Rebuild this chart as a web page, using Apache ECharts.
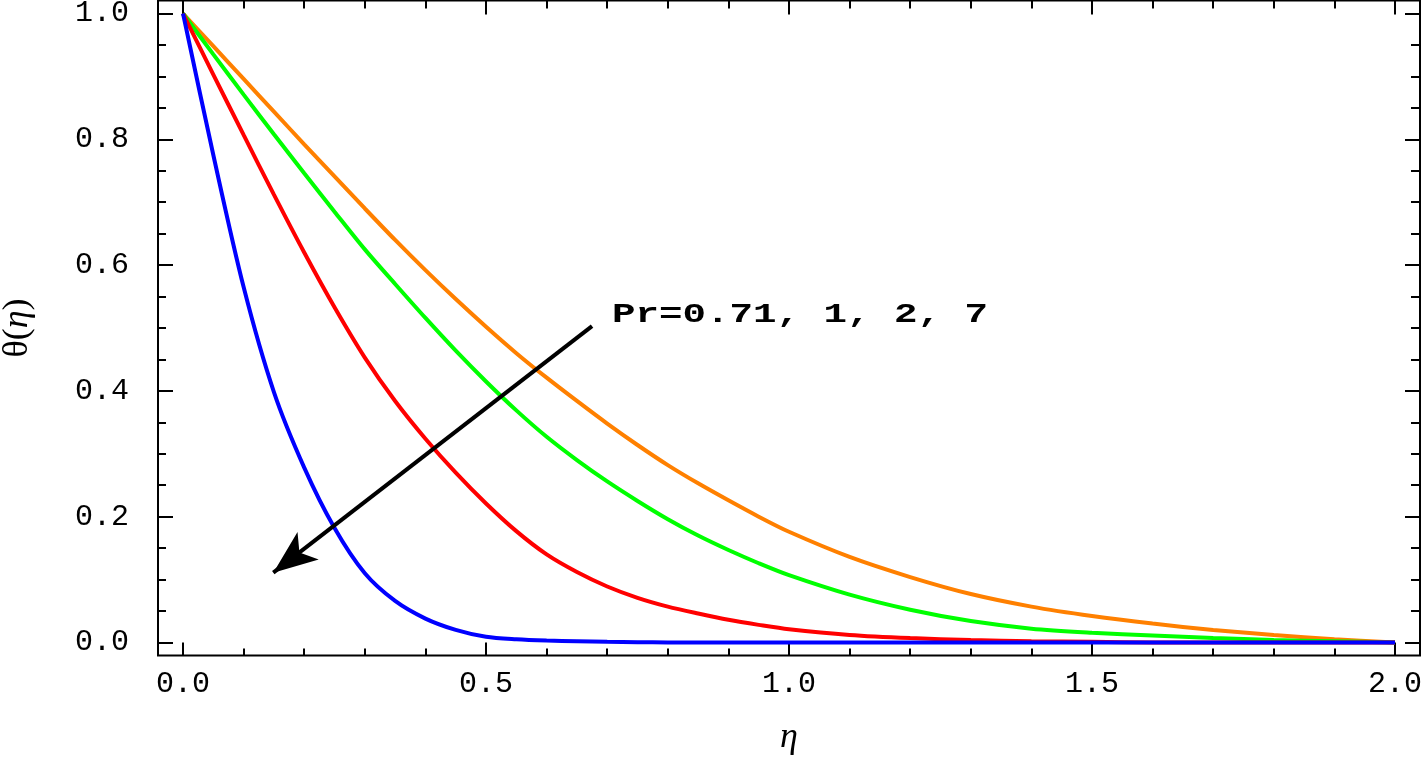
<!DOCTYPE html>
<html>
<head>
<meta charset="utf-8">
<script src="https://cdn.jsdelivr.net/npm/echarts@6/dist/echarts.min.js"></script>
<style>
  html, body { margin: 0; padding: 0; background: #fff; }
  #chart { width: 1421px; height: 759px; }
</style>
</head>
<body>
<div id="chart"></div>
<script>
// eta grid (x) and theta(eta) for each Prandtl number
const eta = [0, 0.05, 0.1, 0.15, 0.2, 0.25, 0.3, 0.35, 0.4, 0.45, 0.5,
  0.55, 0.6, 0.65, 0.7, 0.75, 0.8, 0.85, 0.9, 0.95, 1.0,
  1.1, 1.2, 1.3, 1.4, 1.5, 1.6, 1.7, 1.8, 1.9, 2.0]
const thetaPr071 = [1, 0.948, 0.896, 0.844, 0.792, 0.741, 0.69, 0.64, 0.592, 0.546, 0.502,
  0.46, 0.421, 0.384, 0.348, 0.314, 0.282, 0.253, 0.226, 0.2, 0.176,
  0.136, 0.104, 0.077, 0.057, 0.042, 0.03, 0.02, 0.012, 0.005, 0]
const thetaPr1 = [1, 0.935, 0.871, 0.808, 0.746, 0.685, 0.625, 0.57, 0.516, 0.464, 0.415,
  0.369, 0.327, 0.29, 0.256, 0.225, 0.196, 0.17, 0.147, 0.126, 0.107,
  0.076, 0.052, 0.034, 0.022, 0.0155, 0.011, 0.007, 0.004, 0.002, 0]
const thetaPr2 = [1, 0.903, 0.807, 0.712, 0.62, 0.533, 0.453, 0.384, 0.324, 0.27, 0.221,
  0.177, 0.14, 0.112, 0.089, 0.071, 0.057, 0.046, 0.036, 0.028, 0.021,
  0.012, 0.007, 0.004, 0.002, 0.001, 0, 0, 0, 0, 0]
const thetaPr7 = [1, 0.775, 0.565, 0.398, 0.278, 0.182, 0.11, 0.066, 0.038, 0.02, 0.009,
  0.005, 0.003, 0.002, 0.001, 0.0005, 0, 0, 0, 0, 0,
  0, 0, 0, 0, 0, 0, 0, 0, 0, 0]

// tick labels
const xMajor = [0, 0.5, 1.0, 1.5, 2.0]
const yMajor = [0, 0.2, 0.4, 0.6, 0.8, 1.0]
const xMinor = []
for (let i = 1; i < 20; i++) if (i % 5 !== 0) xMinor.push(i / 10)
const yMinor = []
for (let i = 1; i < 20; i += 2) yMinor.push(i / 20)
for (let i = 2; i < 20; i += 4) yMinor.push(i / 20)

// annotation arrow (data coords)
const arrowFrom = [0.675, 0.503]
const arrowTo = [0.149, 0.111]

const X_MIN = -0.0413, X_MAX = 2.0413
const Y_MIN = -0.0207, Y_MAX = 1.0207
const monoFont = '"Liberation Mono", "Courier New", monospace'
const serifFont = '"Liberation Serif", "Times New Roman", serif'

function xAxis(pos, ticks, len, withLabel) {
  return {
    type: 'value', position: pos, min: X_MIN, max: X_MAX,
    axisLine: { show: false, onZero: false },
    splitLine: { show: false },
    axisTick: { show: true, inside: true, length: len, customValues: ticks,
      lineStyle: { color: '#000', width: 2 } },
    axisLabel: withLabel ? {
      show: true, customValues: ticks, margin: 14, color: '#000',
      fontFamily: monoFont, fontSize: 30,
      formatter: v => v.toFixed(1)
    } : { show: false }
  }
}
function yAxis(pos, ticks, len, withLabel) {
  return {
    type: 'value', position: pos, min: Y_MIN, max: Y_MAX,
    axisLine: { show: false, onZero: false },
    splitLine: { show: false },
    axisTick: { show: true, inside: true, length: len, customValues: ticks,
      lineStyle: { color: '#000', width: 2 } },
    axisLabel: withLabel ? {
      show: true, customValues: ticks, margin: 29, color: '#000',
      fontFamily: monoFont, fontSize: 30,
      formatter: v => v.toFixed(1)
    } : { show: false }
  }
}

const xAxes = [
  xAxis('bottom', xMajor, 13, true),
  xAxis('bottom', xMinor, 7, false),
  xAxis('top', xMajor, 14, false),
  xAxis('top', xMinor, 8, false)
]
xAxes[0].name = 'η'
xAxes[0].nameLocation = 'middle'
xAxes[0].nameGap = 64
xAxes[0].nameTextStyle = { fontFamily: serifFont, fontSize: 36, fontStyle: 'italic', color: '#000' }

const yAxes = [
  yAxis('left', yMajor, 15, true),
  yAxis('left', yMinor, 8, false),
  yAxis('right', yMajor, 15, false),
  yAxis('right', yMinor, 9, false)
]
yAxes[0].name = '{t|θ(}{e|η}{t|)}'
yAxes[0].nameLocation = 'middle'
yAxes[0].nameGap = 122
yAxes[0].nameRotate = 90
yAxes[0].nameTextStyle = {
  color: '#000',
  rich: {
    t: { fontFamily: serifFont, fontSize: 36, color: '#000' },
    e: { fontFamily: serifFont, fontSize: 36, fontStyle: 'italic', color: '#000' }
  }
}

function curve(vals, color, extra) {
  return Object.assign({
    type: 'line',
    data: eta.map((x, i) => [x, vals[i]]),
    showSymbol: false,
    smooth: 0.3,
    lineStyle: { color: color, width: 4 },
    itemStyle: { color: color },
    silent: true,
    z: 3
  }, extra || {})
}

const chart = echarts.init(document.getElementById('chart'))
chart.setOption({
  animation: false,
  backgroundColor: '#fff',
  grid: { left: 158, right: 1, top: 0.5, bottom: 103.5, show: true,
    outerBoundsMode: 'none', containLabel: false,
    borderColor: '#000', borderWidth: 2, backgroundColor: 'transparent' },
  xAxis: xAxes,
  yAxis: yAxes,
  series: [
    curve(thetaPr071, '#ff8000'),
    curve(thetaPr1, '#00ff00'),
    curve(thetaPr2, '#ff0000'),
    curve(thetaPr7, '#0000ff', {
      markLine: {
        silent: true,
        symbol: ['none', 'arrow'],
        symbolSize: [26, 44],
        label: { show: false },
        lineStyle: { color: '#000', width: 4, type: 'solid' },
        data: [[{ coord: arrowFrom }, { coord: arrowTo }]]
      }
    })
  ],
  graphic: [{
    type: 'text',
    x: 612, y: 315,
    scaleX: 1.45,
    style: {
      text: 'Pr=0.71, 1, 2, 7',
      fill: '#000',
      font: 'bold 27px ' + monoFont,
      textAlign: 'left',
      textVerticalAlign: 'middle'
    }
  }]
})
</script>
</body>
</html>
